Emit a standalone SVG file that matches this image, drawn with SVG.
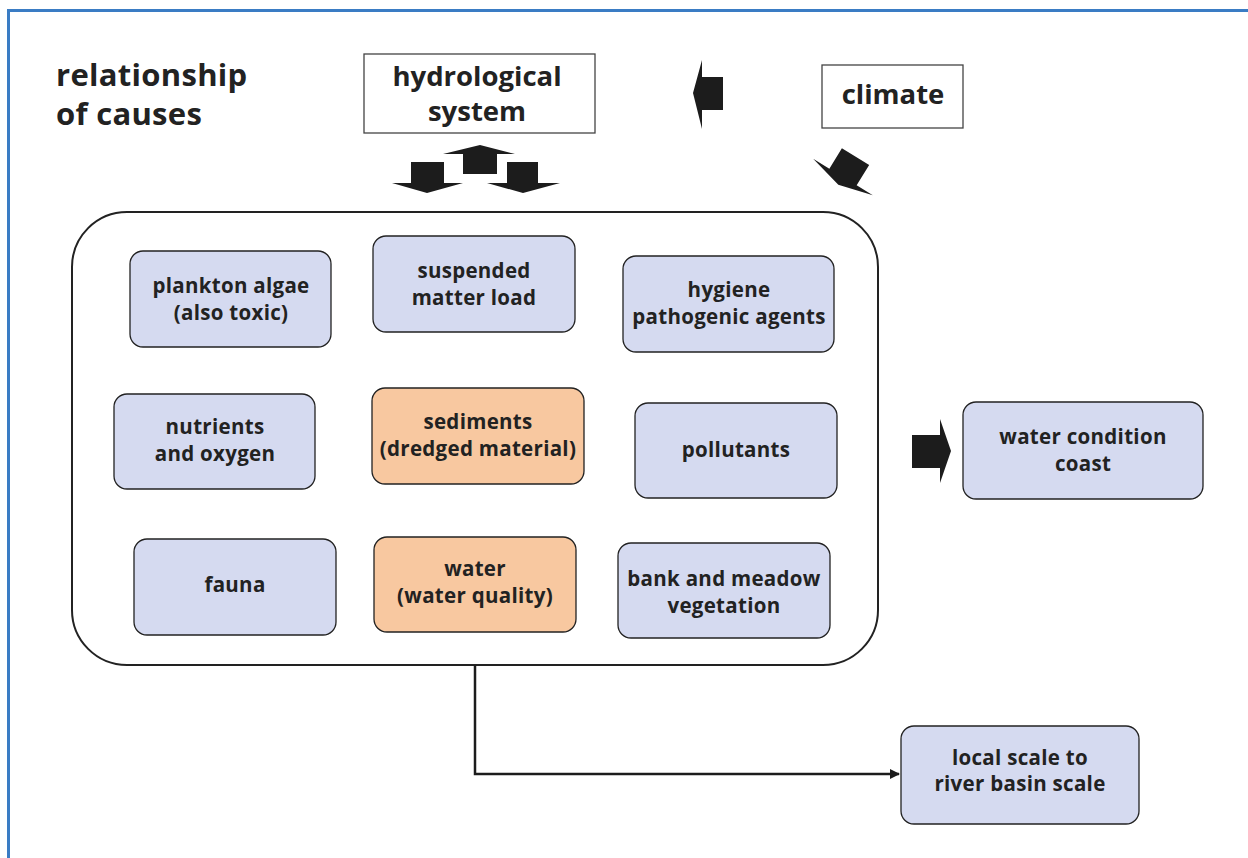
<svg xmlns="http://www.w3.org/2000/svg" width="1248" height="858" viewBox="0 0 1248 858">
<style>
text{font-family:"Open Sans","Liberation Sans",sans-serif;font-weight:bold;fill:#222;text-anchor:middle}
.t{font-size:20.5px;letter-spacing:0.3px}
.big{font-size:27.5px}
.node{fill:#d5daf0;stroke:#222;stroke-width:1.3}
.org{fill:#f8c8a0;stroke:#222;stroke-width:1.3}
.box{fill:#fff;stroke:#444;stroke-width:1.3}
.arr{fill:#1c1c1c}
</style>
<defs>
<marker id="ah" markerWidth="10" markerHeight="10" refX="9" refY="5" orient="auto" markerUnits="userSpaceOnUse">
<path d="M0,0 L10,5 L0,10 Z" fill="#1c1c1c"/>
</marker>
</defs>
<rect x="0" y="0" width="1248" height="858" fill="#fff"/>
<path d="M8.5,858 V10.5 H1248" fill="none" stroke="#3a7cc4" stroke-width="3"/>
<g id="title">
<text style="font-size:31px;text-anchor:start;letter-spacing:0.3px" x="56" y="86">relationship</text>
<text style="font-size:31px;text-anchor:start;letter-spacing:0.3px" x="56" y="125">of causes</text>
</g>
<g id="hydrological">
<rect class="box" x="364" y="54" width="231" height="79"/>
<text class="big" x="477" y="86">hydrological</text>
<text class="big" x="477" y="121">system</text>
</g>
<g id="climate">
<rect class="box" x="822" y="65" width="141" height="63"/>
<text class="big" x="893" y="104">climate</text>
</g>
<g id="main">
<rect x="72" y="212" width="806" height="453" rx="55" fill="#fff" stroke="#222" stroke-width="2"/>
</g>
<g id="plankton"><rect class="node" x="130" y="251" width="201" height="96" rx="13"/><text class="t" x="231" y="293">plankton algae</text><text class="t" x="231" y="320">(also toxic)</text></g>
<g id="suspended"><rect class="node" x="373" y="236" width="202" height="96" rx="13"/><text class="t" x="474" y="278">suspended</text><text class="t" x="474" y="305">matter load</text></g>
<g id="hygiene"><rect class="node" x="623" y="256" width="211" height="96" rx="13"/><text class="t" x="729" y="297">hygiene</text><text class="t" x="729" y="324">pathogenic agents</text></g>
<g id="nutrients"><rect class="node" x="114" y="394" width="201" height="95" rx="13"/><text class="t" x="215" y="434">nutrients</text><text class="t" x="215" y="461">and oxygen</text></g>
<g id="sediments"><rect class="org" x="372" y="388" width="212" height="96" rx="13"/><text class="t" x="478" y="429">sediments</text><text class="t" x="478" y="456">(dredged material)</text></g>
<g id="pollutants"><rect class="node" x="635" y="403" width="202" height="95" rx="13"/><text class="t" x="736" y="457">pollutants</text></g>
<g id="fauna"><rect class="node" x="134" y="539" width="202" height="96" rx="13"/><text class="t" x="235" y="592">fauna</text></g>
<g id="water"><rect class="org" x="374" y="537" width="202" height="95" rx="13"/><text class="t" x="475" y="576">water</text><text class="t" x="475" y="603">(water quality)</text></g>
<g id="bank"><rect class="node" x="618" y="543" width="212" height="95" rx="13"/><text class="t" x="724" y="586">bank and meadow</text><text class="t" x="724" y="613">vegetation</text></g>
<g id="coast"><rect class="node" x="963" y="402" width="240" height="97" rx="13"/><text class="t" x="1083" y="444">water condition</text><text class="t" x="1083" y="471">coast</text></g>
<g id="scale"><rect class="node" x="901" y="726" width="238" height="98" rx="13"/><text class="t" x="1020" y="765">local scale to</text><text class="t" x="1020" y="791">river basin scale</text></g>
<g id="connectors">
<path d="M475,665 V774 H899" fill="none" stroke="#1c1c1c" stroke-width="2.5" marker-end="url(#ah)"/>
<polygon class="arr" points="411,162 444,162 444,183 463,183 427,193 392,183 411,183"/>
<polygon class="arr" points="463,174 497,174 497,154 515,154 480,145 443,154 463,154"/>
<polygon class="arr" points="507,162 538,162 538,183 560,183 523,193 487,183 507,183"/>
<polygon class="arr" points="723,77 702,77 702,60 693,93 702,129 702,110 723,110"/>
<polygon class="arr" points="912,435 940,435 940,419 951,451 940,483 940,468 912,468"/>
<polygon class="arr" transform="translate(843,177) rotate(-58.5)" points="0,-16 0,-35 -9,0 0,35 0,16 24,16 24,-16"/>
</g>
</svg>
